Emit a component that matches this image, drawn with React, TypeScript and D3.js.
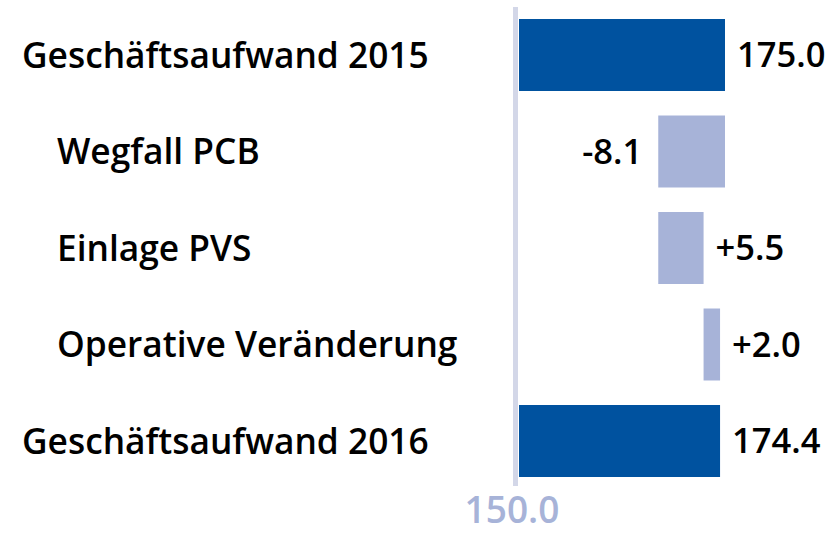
import React from "react";
import * as d3 from "d3";

const categories = ["Geschäftsaufwand 2015", "Wegfall PCB", "Einlage PVS", "Operative Veränderung", "Geschäftsaufwand 2016"];
const values = [175.0, -8.1, 5.5, 2.0, 174.4];
const kinds = ["total", "delta", "delta", "delta", "total"];
const valueLabels = ["175.0", "-8.1", "+5.5", "+2.0", "174.4"];
const indents = [0, 1, 1, 1, 0];
const axisMin = 150;
const tickLabels = ["150.0"];

const W = 831;
const H = 534;
const DARK = "#00529f";
const LIGHT = "#a7b3d8";
const FONT = "'Open Sans', sans-serif";

export default function App() {
  const x = d3.scaleLinear().domain([150, 175]).range([519, 725]);
  const y = d3.scaleBand<string>().domain(categories).range([6.75, 489.25]).paddingInner(0.254).paddingOuter(0.127);

  let running = 0;
  const bars = categories.map((c, i) => {
    let x0: number, x1: number;
    if (kinds[i] === "total") {
      x0 = axisMin;
      x1 = values[i];
      running = values[i];
    } else {
      const start = running;
      running = running + values[i];
      x0 = Math.min(start, running);
      x1 = Math.max(start, running);
    }
    return { c, i, x0, x1, neg: values[i] < 0 && kinds[i] === "delta" };
  });

  return (
    <svg width={W} height={H} style={{ position: "absolute", left: 0, top: 0, background: "#fff" }}>
      <line x1={x(axisMin) - 3.5} x2={x(axisMin) - 3.5} y1={7} y2={486} stroke="#d3d7e8" strokeWidth={5} />
      {bars.map((b) => (
        <g key={b.c}>
          <rect
            x={x(b.x0)}
            width={x(b.x1) - x(b.x0)}
            y={y(b.c)}
            height={y.bandwidth()}
            fill={kinds[b.i] === "total" ? DARK : LIGHT}
          />
          <text
            x={b.neg ? x(b.x0) - 16 : x(b.x1) + 12}
            y={(y(b.c) as number) + y.bandwidth() / 2}
            dy="0.36em"
            textAnchor={b.neg ? "end" : "start"}
            fontFamily={FONT}
            fontWeight={600}
            fontSize={34.5}
            fill="#000"
          >
            {valueLabels[b.i]}
          </text>
          <text
            x={indents[b.i] ? 57 : 22}
            y={(y(b.c) as number) + y.bandwidth() / 2}
            dy="0.36em"
            fontFamily={FONT}
            fontWeight={600}
            fontSize={35.3}
            fill="#000"
          >
            {b.c}
          </text>
        </g>
      ))}
      {tickLabels.map((t) => (
        <text key={t} x={x(axisMin) - 7} y={523} textAnchor="middle" fontFamily={FONT} fontWeight={600} fontSize={37} fill="#a7b3d8">
          {t}
        </text>
      ))}
    </svg>
  );
}
